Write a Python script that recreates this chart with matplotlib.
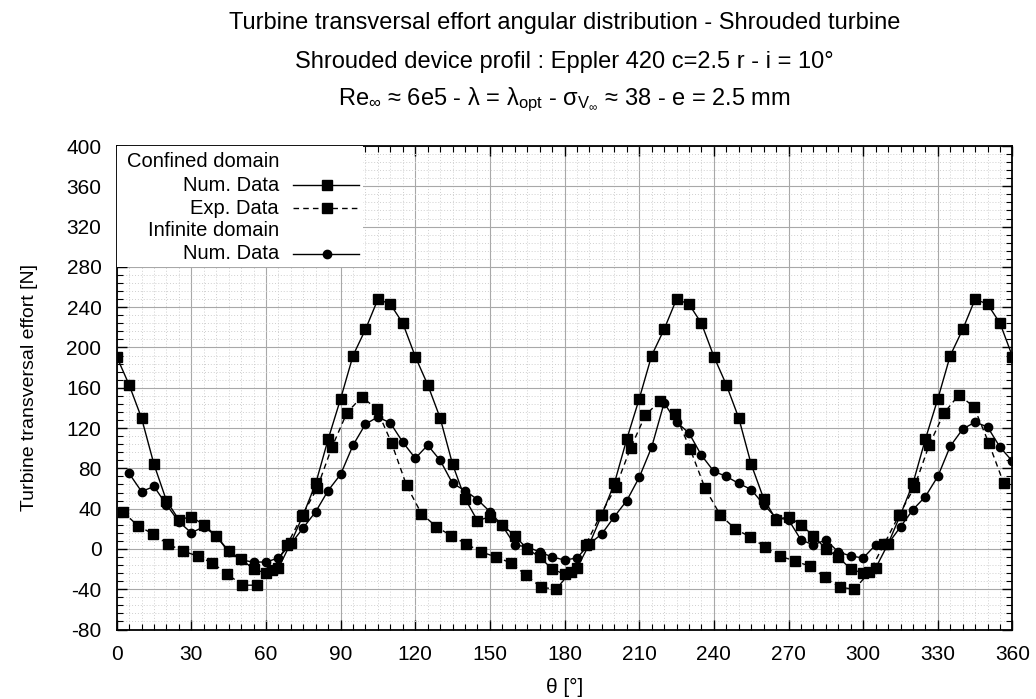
import numpy as np
import matplotlib
matplotlib.use('Agg')
import matplotlib.pyplot as plt
from matplotlib.lines import Line2D
from matplotlib.patches import Rectangle
from matplotlib.ticker import MultipleLocator

plt.rcParams['font.family'] = ['Liberation Sans', 'DejaVu Sans']
plt.rcParams['mathtext.default'] = 'regular'
plt.rcParams['axes.unicode_minus'] = False

# Confined domain - numerical data (every 5 deg, 0..360)
theta_conf_num = np.arange(0, 361, 5)
conf_num = [191, 163, 130, 84, 48, 29, 32, 24, 13, -2, -10, -20,
            -24, -19, 6, 34, 65, 109, 149, 192, 218, 248, 243, 224,
            191, 163, 130, 84, 50, 28, 32, 24, 13, 0, -8, -20,
            -25, -19, 5, 34, 65, 109, 149, 192, 218, 248, 243, 224,
            191, 163, 130, 84, 50, 29, 32, 24, 13, 0, -8, -20,
            -24, -19, 5, 34, 65, 109, 149, 192, 218, 248, 243, 224,
            191]

# Confined domain - experimental data (every 6 deg, 2.5..356.5)
theta_conf_exp = np.arange(2.5, 360, 6)
conf_exp = [37, 23, 15, 5, -2, -7, -14, -25, -36, -36,
            -21, 4, 33, 60, 101, 135, 151, 139, 105, 63,
            35, 22, 13, 5, -3, -8, -14, -26, -38, -40,
            -23, 4, 34, 61, 100, 133, 147, 134, 99, 60,
            34, 20, 12, 2, -7, -12, -17, -28, -38, -40,
            -23, 5, 34, 61, 103, 135, 153, 141, 105, 65]

# Infinite domain - numerical data (every 5 deg, 5..360)
theta_inf_num = np.arange(5, 361, 5)
inf_num = [75, 57, 62, 44, 27, 16, 22, 13, -3, -11, -13, -13,
           -9, 5, 21, 37, 58, 74, 103, 124, 131, 125, 106, 90,
           103, 88, 65, 58, 49, 37, 23, 4, 2, -3, -8, -11,
           -9, 5, 15, 32, 48, 71, 101, 145, 126, 115, 93, 77,
           72, 65, 59, 44, 31, 29, 9, 4, 9, -3, -7, -9,
           4, 5, 22, 39, 52, 72, 102, 119, 126, 121, 101, 87]

fig = plt.figure(figsize=(10.36, 6.99), dpi=100)
ax = fig.add_axes([0.1126, 0.0994, 0.8647, 0.6917])

ax.plot(theta_conf_num, conf_num, color='black', lw=1.0, marker='s', ms=6.5, zorder=3)
ax.plot(theta_conf_exp, conf_exp, color='black', lw=1.0, ls=(0, (4, 3)), marker='s', ms=6.5, zorder=3)
ax.plot(theta_inf_num, inf_num, color='black', lw=1.0, marker='o', ms=6, zorder=3)

ax.set_xlim(0, 360)
ax.set_ylim(-80, 400)
ax.xaxis.set_major_locator(MultipleLocator(30))
ax.xaxis.set_minor_locator(MultipleLocator(5))
ax.yaxis.set_major_locator(MultipleLocator(40))
ax.yaxis.set_minor_locator(MultipleLocator(8))
ax.tick_params(which='both', direction='in', top=True, right=True, labelsize=15)
ax.tick_params(which='major', length=7, width=1)
ax.tick_params(which='minor', length=4, width=0.8)
ax.tick_params(axis='x', pad=11)
ax.tick_params(axis='y', pad=11)
ax.grid(which='major', color='#a8a8a8', lw=0.8, ls='-')
ax.grid(which='minor', color='#cfcfcf', lw=0.7, ls=(0, (1, 2)))
ax.set_axisbelow(True)
for s in ax.spines.values():
    s.set_linewidth(1.3)

ax.set_xlabel('θ [°]', fontsize=15, labelpad=10)
ax.set_ylabel('Turbine transversal effort [N]', fontsize=14, labelpad=20)

# legend drawn by hand (gnuplot style)
ax.add_patch(Rectangle((0, 0.75), 0.275, 0.25, transform=ax.transAxes,
                       facecolor='white', edgecolor='none', zorder=4))
legend_rows = [(0.967, 'Confined domain'), (0.919, 'Num. Data'), (0.871, 'Exp. Data'),
               (0.826, 'Infinite domain'), (0.777, 'Num. Data')]
for yy, txt in legend_rows:
    ax.text(0.1812, yy, txt, transform=ax.transAxes, fontsize=14.5,
            ha='right', va='center', zorder=5)
samples = [(0.919, '-', 's', 6.5), (0.871, (0, (4, 3)), 's', 6.5), (0.777, '-', 'o', 6)]
for yy, ls, mk, ms in samples:
    ax.add_line(Line2D([0.1965, 0.271], [yy, yy], transform=ax.transAxes, color='black',
                       lw=1.0, ls=ls, zorder=5))
    ax.add_line(Line2D([0.2345], [yy], transform=ax.transAxes, color='black',
                       marker=mk, ms=ms, zorder=5))

xc = 0.1126 + 0.8647 / 2
fig.text(xc, 0.9585, 'Turbine transversal effort angular distribution - Shrouded turbine',
         ha='center', va='baseline', fontsize=17)
fig.text(xc, 0.9027, 'Shrouded device profil : Eppler 420 c=2.5 r - i = 10°',
         ha='center', va='baseline', fontsize=17)
fig.text(xc, 0.8498, r'Re$_\infty$ ≈ 6e5 - λ = λ$_{opt}$ - σ$_{V_\infty}$ ≈ 38 - e = 2.5 mm',
         ha='center', va='baseline', fontsize=17)

fig.savefig('out.png', dpi=100)
